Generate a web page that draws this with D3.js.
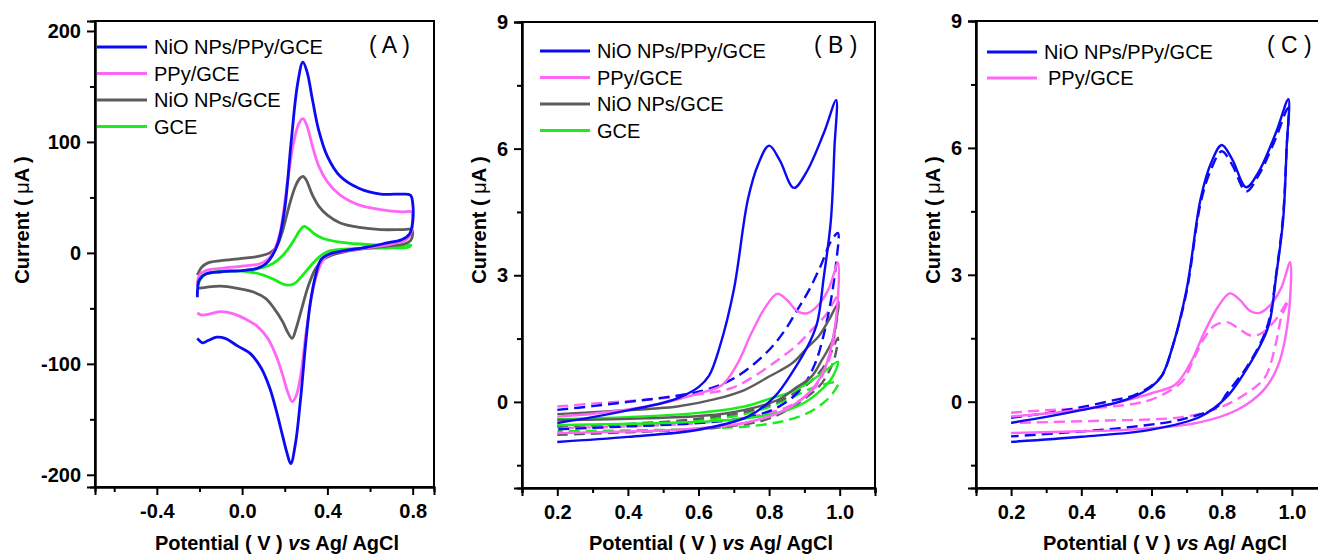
<!DOCTYPE html>
<meta charset="utf-8">
<style>
body { margin: 0; background: #fff; }
svg text { font-family: Arial, "Liberation Sans", sans-serif; }
.tick text { font-weight: bold; font-size: 20px; }
.ttl { font-weight: bold; font-size: 20px; }
.leg { font-size: 20px; }
.tag { font-size: 23px; }
</style>
<script src="https://cdnjs.cloudflare.com/ajax/libs/d3/7.8.5/d3.min.js"></script>
<body>
<svg id="fig" width="1318" height="555"></svg>
<script>
// colours
var cBlue = "#0a0af5", cPink = "#ff66f5", cGray = "#5c5c5c", cGreen = "#1aee1a";

// ---- panel A : [potential V, current uA] traced round each loop
var A_niopPy = [[-0.21,-40],[-0.2,-24],[-0.17,-19],[-0.1,-17],[0.0,-16],[0.07,-14],[0.11,-10],[0.14,-3],[0.17,10],[0.2,40],[0.23,100],[0.26,152],[0.285,172],[0.305,163],[0.33,138],[0.36,110],[0.40,87],[0.46,69],[0.55,58],[0.65,53],[0.75,53],[0.79,52],[0.80,45],[0.80,28],[0.785,17],[0.75,12],[0.68,9],[0.58,5],[0.48,2],[0.41,-1],[0.37,-6],[0.345,-20],[0.32,-45],[0.30,-78],[0.275,-130],[0.25,-172],[0.228,-190],[0.21,-180],[0.19,-165],[0.16,-142],[0.13,-122],[0.09,-104],[0.04,-91],[-0.02,-84],[-0.08,-77],[-0.12,-76],[-0.16,-79],[-0.185,-81],[-0.21,-77]];
var A_ppy = [[-0.21,-30],[-0.2,-20],[-0.17,-16],[-0.1,-14],[0.0,-12],[0.08,-10],[0.12,-6],[0.15,2],[0.18,20],[0.21,60],[0.24,98],[0.265,116],[0.285,121],[0.305,114],[0.33,96],[0.36,78],[0.40,64],[0.46,52],[0.55,43],[0.65,39],[0.75,37],[0.795,37],[0.80,32],[0.795,20],[0.77,12],[0.7,8],[0.6,5],[0.5,2],[0.43,0],[0.39,-4],[0.36,-14],[0.33,-35],[0.30,-72],[0.275,-110],[0.255,-128],[0.235,-134],[0.215,-126],[0.19,-110],[0.16,-93],[0.12,-77],[0.07,-66],[0.02,-60],[-0.04,-55],[-0.1,-53],[-0.15,-55],[-0.19,-56],[-0.21,-54]];
var A_nio = [[-0.21,-20],[-0.19,-13],[-0.16,-9],[-0.1,-7],[0.0,-5],[0.08,-3],[0.13,0],[0.16,5],[0.19,20],[0.22,42],[0.25,60],[0.27,67],[0.285,69],[0.30,66],[0.33,52],[0.36,42],[0.40,34],[0.46,27],[0.55,23],[0.65,21],[0.75,21],[0.795,21],[0.80,17],[0.79,11],[0.76,8],[0.68,6],[0.58,4],[0.48,1],[0.42,-2],[0.38,-6],[0.345,-14],[0.31,-30],[0.28,-50],[0.255,-67],[0.235,-77],[0.215,-72],[0.19,-62],[0.15,-50],[0.11,-41],[0.05,-35],[-0.02,-32],[-0.1,-30],[-0.17,-31],[-0.21,-32]];
var A_gce = [[-0.21,-30],[-0.2,-22],[-0.17,-19],[-0.1,-17],[0.0,-16],[0.08,-14],[0.13,-11],[0.17,-6],[0.21,2],[0.245,12],[0.27,20],[0.29,24],[0.31,22],[0.34,17],[0.38,13],[0.45,10],[0.55,8],[0.65,7],[0.75,7],[0.79,7],[0.78,5],[0.7,4.5],[0.55,4],[0.45,3],[0.40,1],[0.36,-4],[0.32,-12],[0.28,-21],[0.25,-27],[0.22,-29],[0.19,-28],[0.15,-24],[0.1,-20],[0.03,-17],[-0.05,-16],[-0.12,-17],[-0.18,-20],[-0.21,-30]];

// ---- panel B / C : solid = first scan, dashed = second scan
var B_niopPy = [[0.2,-0.5],[0.3,-0.36],[0.4,-0.2],[0.5,-0.02],[0.55,0.12],[0.6,0.35],[0.63,0.62],[0.66,1.3],[0.70,2.65],[0.74,4.8],[0.77,5.65],[0.80,6.07],[0.83,5.73],[0.87,5.07],[0.905,5.43],[0.955,6.37],[0.99,7.15],[0.985,6.0],[0.975,4.3],[0.955,2.96],[0.937,1.9],[0.917,1.45],[0.87,0.76],[0.815,0.12],[0.74,-0.35],[0.6,-0.66],[0.4,-0.83],[0.2,-0.95]];
var B_niopPy2 = [[0.2,-0.19],[0.3,-0.1],[0.4,0.0],[0.5,0.1],[0.6,0.24],[0.675,0.45],[0.73,0.72],[0.8,1.23],[0.845,1.7],[0.88,2.18],[0.91,2.6],[0.945,3.2],[0.975,3.8],[0.995,4.0],[0.99,3.3],[0.975,2.4],[0.955,1.6],[0.93,0.9],[0.89,0.3],[0.83,-0.1],[0.75,-0.35],[0.6,-0.5],[0.4,-0.58],[0.2,-0.65]];
var B_ppy = [[0.2,-0.35],[0.3,-0.28],[0.4,-0.18],[0.5,-0.03],[0.55,0.08],[0.6,0.2],[0.667,0.4],[0.71,0.9],[0.75,1.63],[0.79,2.25],[0.823,2.56],[0.85,2.42],[0.88,2.15],[0.908,2.1],[0.94,2.3],[0.97,2.7],[0.995,3.3],[0.99,2.0],[0.96,0.84],[0.92,0.28],[0.845,-0.19],[0.73,-0.5],[0.54,-0.66],[0.35,-0.71],[0.2,-0.74]];
var B_ppy2 = [[0.2,-0.11],[0.3,-0.04],[0.45,0.05],[0.6,0.18],[0.695,0.33],[0.76,0.62],[0.826,1.0],[0.88,1.35],[0.92,1.7],[0.96,2.05],[0.995,2.5],[0.99,1.8],[0.97,1.0],[0.93,0.35],[0.87,-0.05],[0.78,-0.3],[0.6,-0.5],[0.4,-0.58],[0.2,-0.62]];
var B_nio = [[0.2,-0.29],[0.35,-0.22],[0.54,-0.11],[0.65,0.07],[0.73,0.28],[0.8,0.6],[0.866,0.92],[0.91,1.3],[0.94,1.55],[0.97,1.95],[0.996,2.34],[0.99,1.9],[0.98,1.47],[0.95,1.0],[0.92,0.6],[0.87,0.3],[0.826,0.05],[0.68,-0.27],[0.45,-0.39],[0.2,-0.43]];
var B_nio2 = [[0.2,-0.58],[0.4,-0.52],[0.6,-0.4],[0.75,-0.2],[0.85,0.1],[0.92,0.5],[0.96,0.9],[0.995,1.52],[0.99,1.2],[0.98,0.9],[0.95,0.45],[0.92,0.2],[0.85,-0.2],[0.78,-0.45],[0.64,-0.62],[0.4,-0.72],[0.2,-0.78]];
var B_gce = [[0.2,-0.41],[0.4,-0.36],[0.6,-0.26],[0.73,-0.11],[0.8,0.07],[0.875,0.28],[0.95,0.68],[0.995,0.95],[0.98,0.6],[0.95,0.3],[0.9,-0.02],[0.83,-0.25],[0.7,-0.42],[0.5,-0.5],[0.2,-0.55]];
var B_gce2 = [[0.2,-0.6],[0.4,-0.55],[0.6,-0.45],[0.75,-0.25],[0.85,0.05],[0.93,0.35],[0.995,0.45],[0.98,0.2],[0.95,-0.05],[0.9,-0.3],[0.8,-0.52],[0.6,-0.64],[0.2,-0.69]];

var C_niopPy2 = [[0.2,-0.38],[0.3,-0.27],[0.4,-0.13],[0.5,0.05],[0.55,0.15],[0.6,0.38],[0.63,0.62],[0.66,1.3],[0.70,2.6],[0.74,4.7],[0.77,5.5],[0.80,5.92],[0.83,5.6],[0.87,4.97],[0.905,5.35],[0.955,6.25],[0.985,6.9],[0.99,6.95],[0.985,6.0],[0.975,4.4],[0.955,3.0],[0.937,2.0],[0.917,1.5],[0.87,0.8],[0.815,0.2],[0.787,-0.12],[0.69,-0.41],[0.55,-0.59],[0.355,-0.73],[0.2,-0.82]];
var C_ppy2 = [[0.2,-0.26],[0.3,-0.2],[0.45,-0.14],[0.55,-0.05],[0.6,0.05],[0.65,0.25],[0.69,0.5],[0.72,1.0],[0.75,1.5],[0.78,1.8],[0.815,1.88],[0.85,1.72],[0.88,1.57],[0.91,1.6],[0.95,1.9],[0.99,2.4],[0.97,2.0],[0.955,1.4],[0.925,0.6],[0.885,0.28],[0.8,-0.12],[0.69,-0.36],[0.45,-0.45],[0.2,-0.5]];

var labelsABC = ["NiO NPs/PPy/GCE", "PPy/GCE", "NiO NPs/GCE", "GCE"];
var colorsABC = [cBlue, cPink, cGray, cGreen];

var svg = d3.select("#fig");

function fmt(v, dec) { return (dec ? v.toFixed(dec) : String(v)); }

function panel(p) {
  var x = d3.scaleLinear().domain(p.xd).range([p.x0, p.x1]);
  var y = d3.scaleLinear().domain(p.yd).range([p.y1, p.y0]);
  var g = svg.append("g");

  // frame
  g.append("rect").attr("x", p.x0).attr("y", p.y0)
    .attr("width", p.x1 - p.x0).attr("height", p.y1 - p.y0)
    .attr("fill", "none").attr("stroke", "#000").attr("stroke-width", 2);

  // curves
  var line = d3.line().x(function(d) { return x(d[0]); }).y(function(d) { return y(d[1]); })
    .curve(d3.curveCatmullRom.alpha(0.5));
  p.curves.forEach(function(c) {
    g.append("path").attr("d", line(c.data)).attr("fill", "none")
      .attr("stroke", c.color).attr("stroke-width", p.lw)
      .attr("stroke-dasharray", c.dash ? "11,6" : null)
      .attr("stroke-linejoin", "round");
  });

  // axes
  g.append("g").attr("transform", "translate(0," + p.y1 + ")")
    .call(d3.axisBottom(x).tickValues(p.xt).tickSize(8).tickPadding(9)
      .tickFormat(function(d) { return fmt(d, 1); }));
  g.append("g").attr("transform", "translate(0," + p.y1 + ")")
    .call(d3.axisBottom(x).tickValues(p.xm).tickSize(5).tickFormat(""));
  g.append("g").attr("transform", "translate(" + p.x0 + ",0)")
    .call(d3.axisLeft(y).tickValues(p.yt).tickSize(8).tickPadding(6)
      .tickFormat(function(d) { return fmt(d, 0); }));
  g.append("g").attr("transform", "translate(" + p.x0 + ",0)")
    .call(d3.axisLeft(y).tickValues(p.ym).tickSize(5).tickFormat(""));
  g.selectAll(".domain").attr("stroke-width", 2);
  g.selectAll(".tick line").attr("stroke-width", 2);
  g.selectAll(".tick text").attr("fill", "#000");

  // axis titles
  var yt = g.append("text").attr("class", "ttl").attr("text-anchor", "middle")
    .attr("transform", "translate(" + p.ytx + ",220) rotate(-90)");
  yt.append("tspan").text("Current ( ");
  yt.append("tspan").attr("font-weight", "normal").text("\u03bc");
  yt.append("tspan").text("A )");
  var xt = g.append("text").attr("class", "ttl").attr("text-anchor", "middle")
    .attr("x", p.xtx).attr("y", 550);
  xt.append("tspan").text("Potential ( V ) ");
  xt.append("tspan").attr("font-style", "italic").text("vs");
  xt.append("tspan").text(" Ag/ AgCl");

  // legend
  p.legend.forEach(function(k, i) {
    var ly = p.ly + i * p.ldy;
    g.append("line").attr("x1", p.lx).attr("x2", p.lx + 50).attr("y1", ly).attr("y2", ly)
      .attr("stroke", colorsABC[k]).attr("stroke-width", 3);
    g.append("text").attr("class", "leg").attr("x", p.lx + 57 + (p.lshift ? p.lshift[i] : 0))
      .attr("y", ly + 7).text(labelsABC[k]);
  });
  g.append("text").attr("class", "tag").attr("x", p.tagx).attr("y", 53)
    .attr("xml:space", "preserve").text(p.tag);
}

panel({
  x0: 95, x1: 434, y0: 21, y1: 487, xd: [-0.69, 0.90], yd: [-211, 209],
  xt: [-0.4, 0, 0.4, 0.8], xm: [-0.6, -0.2, 0.2, 0.6],
  yt: [-200, -100, 0, 100, 200], ym: [-150, -50, 50, 150],
  lw: 2.8, ytx: 29, xtx: 277,
  curves: [
    {data: A_gce, color: cGreen}, {data: A_nio, color: cGray},
    {data: A_ppy, color: cPink}, {data: A_niopPy, color: cBlue}
  ],
  legend: [0, 1, 2, 3], lx: 97, ly: 47, ldy: 26.5, tag: "( A )", tagx: 369
});

panel({
  x0: 522, x1: 875, y0: 22, y1: 488, xd: [0.1, 1.1], yd: [-2.04, 9],
  xt: [0.2, 0.4, 0.6, 0.8, 1.0], xm: [0.1, 0.3, 0.5, 0.7, 0.9, 1.1],
  yt: [0, 3, 6, 9], ym: [-1.5, 1.5, 4.5, 7.5],
  lw: 2.4, ytx: 486, xtx: 711,
  curves: [
    {data: B_gce2, color: cGreen, dash: 1}, {data: B_nio2, color: cGray, dash: 1},
    {data: B_ppy2, color: cPink, dash: 1}, {data: B_niopPy2, color: cBlue, dash: 1},
    {data: B_gce, color: cGreen}, {data: B_nio, color: cGray},
    {data: B_ppy, color: cPink}, {data: B_niopPy, color: cBlue}
  ],
  legend: [0, 1, 2, 3], lx: 540, ly: 51, ldy: 26.5, tag: "( B )", tagx: 814
});

panel({
  x0: 976, x1: 1327, y0: 21, y1: 488, xd: [0.1, 1.1], yd: [-2.04, 9],
  xt: [0.2, 0.4, 0.6, 0.8, 1.0], xm: [0.1, 0.3, 0.5, 0.7, 0.9, 1.1],
  yt: [0, 3, 6, 9], ym: [-1.5, 1.5, 4.5, 7.5],
  lw: 2.4, ytx: 940, xtx: 1165,
  curves: [
    {data: C_ppy2, color: cPink, dash: 1}, {data: C_niopPy2, color: cBlue, dash: 1},
    {data: B_ppy, color: cPink}, {data: B_niopPy, color: cBlue}
  ],
  legend: [0, 1], lx: 987, ly: 52, ldy: 26, lshift: [0, 4], tag: "( C )", tagx: 1267
});
</script>
</body>
